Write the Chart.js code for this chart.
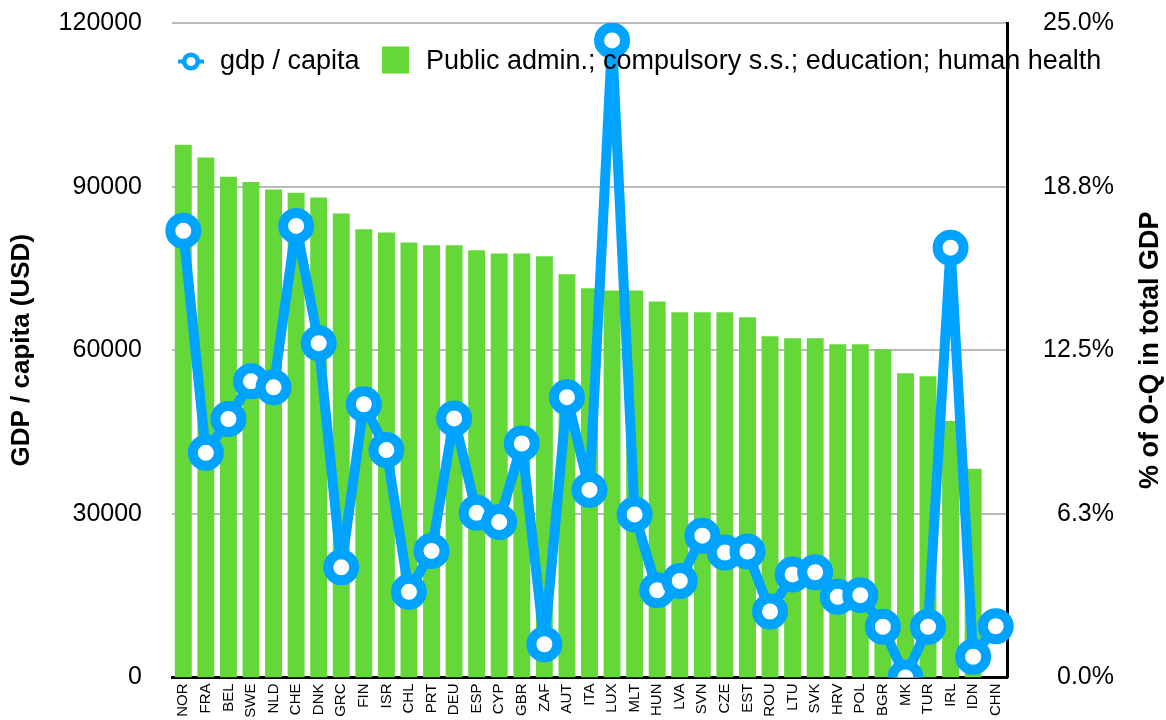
<!DOCTYPE html>
<html>
<head>
<meta charset="utf-8">
<script src="https://cdn.jsdelivr.net/npm/chart.js@4.4.1/dist/chart.umd.min.js"></script>
<style>
  html, body { margin: 0; padding: 0; background: #fff; }
  canvas { display: block; }
</style>
</head>
<body>
<canvas id="chart" width="1166" height="720"></canvas>
<script>
// countries, ordered by share of O-Q sector
const countries = ['NOR', 'FRA', 'BEL', 'SWE', 'NLD', 'CHE', 'DNK', 'GRC', 'FIN', 'ISR', 'CHL', 'PRT', 'DEU',
  'ESP', 'CYP', 'GBR', 'ZAF', 'AUT', 'ITA', 'LUX', 'MLT', 'HUN', 'LVA', 'SVN', 'CZE', 'EST', 'ROU', 'LTU',
  'SVK', 'HRV', 'POL', 'BGR', 'MK', 'TUR', 'IRL', 'IDN', 'CHN'];

// gdp per capita (USD), left axis
const gdpPerCapita = [81900, 41200, 47400, 54300, 53200, 82800, 61300, 20200, 50100, 41700, 15700, 23200, 47500,
  30200, 28500, 42900, 6100, 51400, 34400, 116800, 29900, 16000, 17700, 26000, 22900, 23100, 12100, 18900,
  19300, 14800, 15100, 9300, 0, 9300, 78800, 3800, 9400];

// % of O-Q in total GDP, right axis
const oqShare = [20.35, 19.86, 19.13, 18.93, 18.64, 18.52, 18.33, 17.72, 17.12, 17.00, 16.62, 16.51, 16.51,
  16.32, 16.20, 16.20, 16.09, 15.40, 14.87, 14.78, 14.78, 14.36, 13.95, 13.95, 13.95, 13.76, 13.03, 12.96,
  12.96, 12.73, 12.73, 12.54, 11.62, 11.51, 9.80, 7.97, null];

const leftTicks = [0, 30000, 60000, 90000, 120000];
const rightTicks = [0, 6.25, 12.5, 18.75, 25];

const BLUE = '#00a3ff';
const GREEN = '#63d838';
const FONT = '"Liberation Sans", Arial, Helvetica, sans-serif';

// no extra room for end labels, the plot box is fixed by layout padding
function noPad(scale) {
  scale.paddingTop = 0;
  scale.paddingBottom = 0;
  scale.paddingLeft = 0;
  scale.paddingRight = 0;
}

// legend + right axis title drawn on top of the chart
const extras = {
  id: 'extras',
  afterDraw(chart) {
    const ctx = chart.ctx;
    const area = chart.chartArea;
    const ds = chart.data.datasets;
    ctx.save();
    ctx.font = '27px ' + FONT;
    ctx.textBaseline = 'middle';
    ctx.fillStyle = '#000';

    // line item
    const cx = area.left + 19, cy = area.top + 38.5;
    ctx.strokeStyle = ds[0].borderColor;
    ctx.lineWidth = 4;
    ctx.beginPath();
    ctx.moveTo(cx - 13, cy);
    ctx.lineTo(cx + 13, cy);
    ctx.stroke();
    ctx.beginPath();
    ctx.arc(cx, cy, 6.8, 0, Math.PI * 2);
    ctx.fillStyle = '#fff';
    ctx.fill();
    ctx.lineWidth = 4.5;
    ctx.stroke();
    ctx.fillStyle = '#000';
    ctx.fillText(ds[0].label, area.left + 48, cy);

    // bar item
    ctx.fillStyle = ds[1].backgroundColor;
    ctx.fillRect(area.left + 210, area.top + 23.5, 27, 27);
    ctx.fillStyle = '#000';
    ctx.fillText(ds[1].label, area.left + 254, cy);

    // right axis title, reading bottom to top
    const y1 = chart.scales.y1;
    ctx.font = 'bold 27px ' + FONT;
    ctx.textAlign = 'center';
    ctx.translate(1151, (y1.top + y1.bottom) / 2);
    ctx.rotate(-Math.PI / 2);
    ctx.fillText('% of O-Q in total GDP', 0, 0);
    ctx.restore();
  }
};

new Chart(document.getElementById('chart'), {
  data: {
    labels: countries,
    datasets: [
      {
        type: 'line',
        label: 'gdp / capita',
        data: gdpPerCapita,
        yAxisID: 'y',
        order: 0,
        borderColor: BLUE,
        borderWidth: 10,
        borderJoinStyle: 'round',
        tension: 0,
        pointRadius: 13,
        pointBorderWidth: 10,
        pointBackgroundColor: '#fff',
        pointBorderColor: BLUE,
        pointHoverRadius: 13
      },
      {
        type: 'bar',
        label: 'Public admin.; compulsory s.s.; education; human health',
        data: oqShare,
        yAxisID: 'y1',
        order: 1,
        backgroundColor: GREEN,
        borderWidth: 0,
        categoryPercentage: 1,
        barPercentage: 0.75
      }
    ]
  },
  options: {
    responsive: false,
    animation: false,
    layout: { padding: { top: 20.5, left: 0, right: 52, bottom: 0 } },
    plugins: {
      legend: { display: false },
      tooltip: { enabled: false },
      title: { display: false }
    },
    scales: {
      x: {
        offset: true,
        grid: { display: false, drawTicks: false },
        border: { display: true, color: '#000', width: 3 },
        ticks: {
          color: '#000',
          font: { family: FONT, size: 15 },
          minRotation: 90,
          maxRotation: 90,
          autoSkip: false,
          padding: 6
        },
        afterFit(scale) { scale.height = 42.5; noPad(scale); }
      },
      y: {
        position: 'left',
        min: 0,
        max: 120000,
        afterBuildTicks(scale) { scale.ticks = leftTicks.map(v => ({ value: v })); },
        grid: {
          drawTicks: false,
          lineWidth: 2,
          color: ctx => ctx.tick && ctx.tick.value === 0 ? 'rgba(0,0,0,0)' : '#bbbbbb'
        },
        border: { display: false },
        ticks: {
          color: '#000',
          font: { family: FONT, size: 25 },
          padding: 30,
          callback: v => String(v)
        },
        title: {
          display: true,
          text: 'GDP / capita (USD)',
          color: '#000',
          font: { family: FONT, size: 26, weight: 'bold' },
          padding: { top: 6, bottom: 0 }
        },
        afterFit(scale) { scale.width = 172; noPad(scale); }
      },
      y1: {
        position: 'right',
        min: 0,
        max: 25,
        afterBuildTicks(scale) { scale.ticks = rightTicks.map(v => ({ value: v })); },
        grid: { display: false, drawTicks: false },
        border: { display: true, color: '#000', width: 3 },
        ticks: {
          color: '#000',
          font: { family: FONT, size: 25 },
          padding: 30,
          crossAlign: 'far',
          callback: v => v.toFixed(1) + '%'
        },
        afterFit(scale) { scale.width = 107; noPad(scale); }
      }
    }
  },
  plugins: [extras]
});
</script>
</body>
</html>
